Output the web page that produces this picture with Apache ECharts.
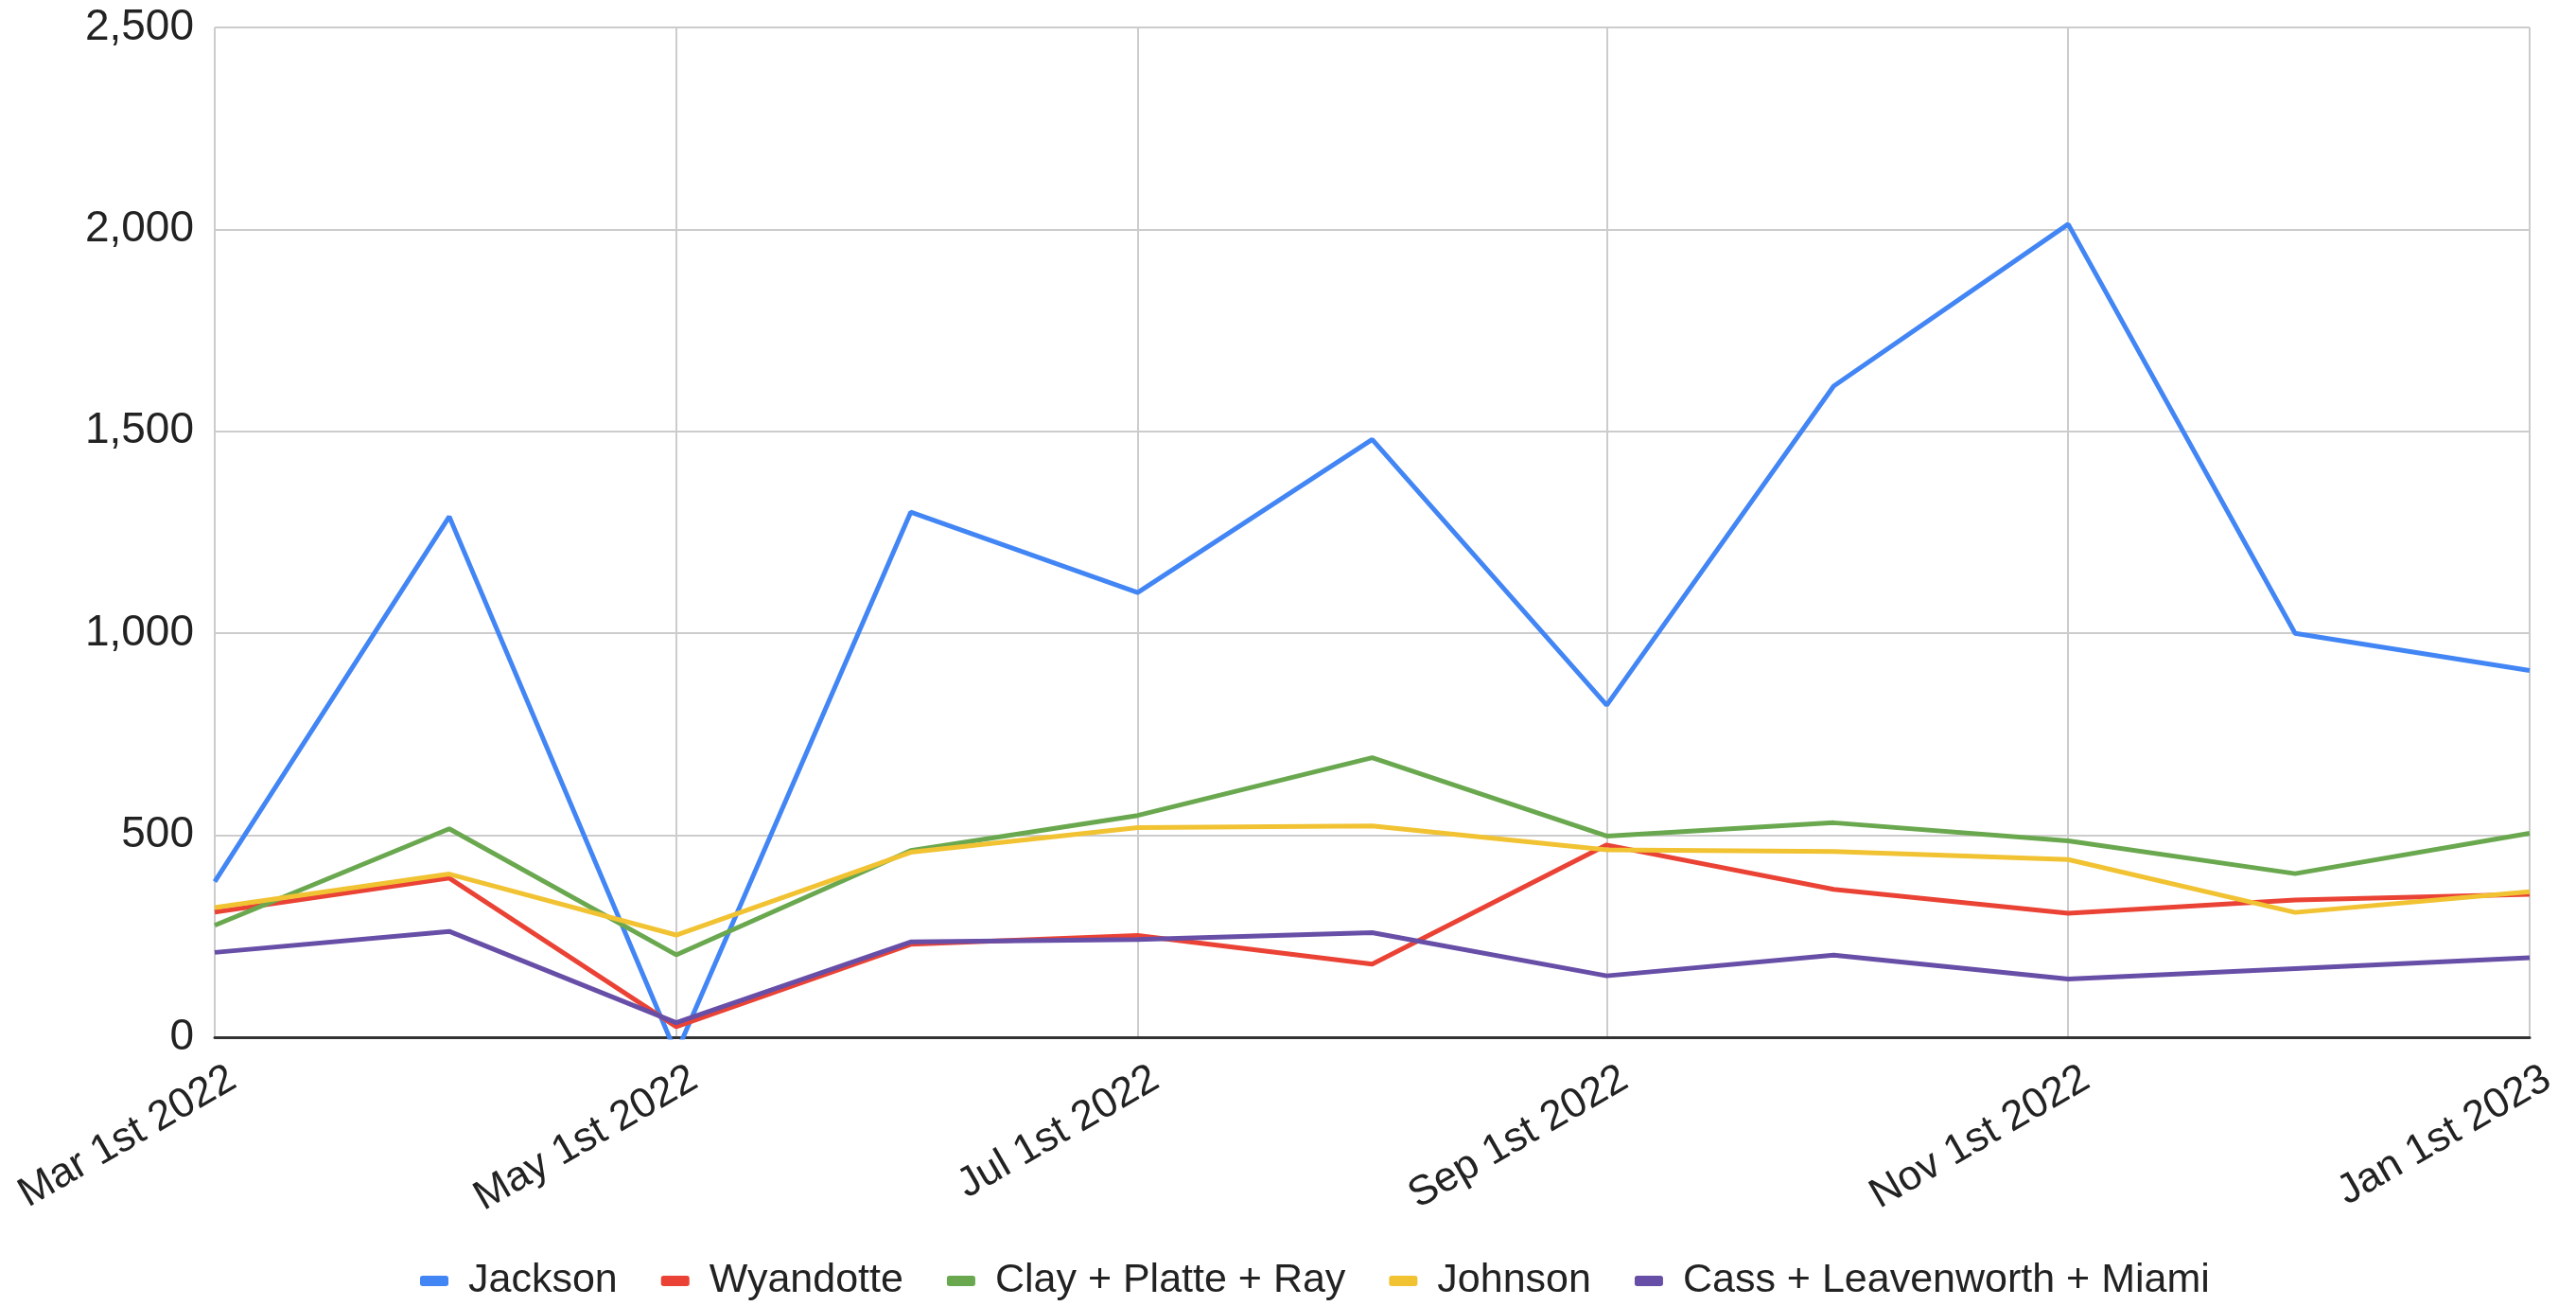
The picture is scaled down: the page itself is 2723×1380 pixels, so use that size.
<!DOCTYPE html>
<html>
<head>
<meta charset="utf-8">
<script src="https://cdn.jsdelivr.net/npm/echarts@6/dist/echarts.min.js"></script>
<style>
  html, body { margin: 0; padding: 0; background: #ffffff; }
  #chart { width: 2723px; height: 1380px; }
</style>
</head>
<body>
<div id="chart"></div>
<script>
// ---- data ----
const months = ['2022-03-01','2022-04-01','2022-05-01','2022-06-01','2022-07-01','2022-08-01',
                '2022-09-01','2022-10-01','2022-11-01','2022-12-01','2023-01-01'];
const seriesNames = ['Jackson', 'Wyandotte', 'Clay + Platte + Ray', 'Johnson', 'Cass + Leavenworth + Miami'];
const jackson   = [385, 1289, -40, 1300, 1101, 1480, 822, 1612, 2013, 1000, 908];
const wyandotte = [310, 394, 26, 230, 252, 181, 476, 366, 307, 340, 354];
const clay      = [277, 516, 204, 462, 549, 692, 498, 531, 486, 405, 505];
const johnson   = [321, 404, 253, 458, 519, 523, 464, 460, 440, 309, 360];
const cass      = [210, 262, 36, 236, 242, 259, 152, 203, 144, 170, 197];
const tickDates  = ['2022-03-01','2022-05-01','2022-07-01','2022-09-01','2022-11-01','2023-01-01'];
const tickLabels = ['Mar 1st 2022','May 1st 2022','Jul 1st 2022','Sep 1st 2022','Nov 1st 2022','Jan 1st 2023'];
const yTicks = [0, 500, 1000, 1500, 2000, 2500];
const colors = ['#4285F4', '#EA4335', '#6AA84F', '#F1C232', '#674EA7'];

// daily category axis so spacing follows the calendar
function dayList(first, last) {
  const out = [];
  let t = Date.parse(first + 'T00:00:00Z');
  const end = Date.parse(last + 'T00:00:00Z');
  while (t <= end) {
    out.push(new Date(t).toISOString().slice(0, 10));
    t += 86400000;
  }
  return out;
}
const days = dayList(months[0], months[months.length - 1]);
const isTick = (idx, val) => tickDates.indexOf(val) >= 0;

const allValues = [jackson, wyandotte, clay, johnson, cass];
const FONT = '"Liberation Sans", Arial, sans-serif';

const chart = echarts.init(document.getElementById('chart'), null, { renderer: 'canvas' });
chart.setOption({
  animation: false,
  backgroundColor: '#ffffff',
  color: colors,
  grid: { left: 227, right: 49, top: 29, bottom: 284, containLabel: false },
  legend: {
    bottom: 0,
    left: 439,
    icon: 'roundRect',
    itemWidth: 30,
    itemHeight: 11,
    itemGap: 46,
    textStyle: { fontFamily: FONT, fontSize: 43, color: '#222222', padding: [0, 0, 0, 16] },
    data: seriesNames
  },
  xAxis: {
    type: 'category',
    boundaryGap: false,
    data: days,
    axisLine: { show: true, onZero: true, lineStyle: { color: '#333333', width: 3 } },
    axisTick: { show: false },
    axisLabel: {
      interval: isTick,
      rotate: 30,
      margin: 52,
      padding: [0, -22, 0, 0],
      fontFamily: FONT,
      fontSize: 44,
      color: '#222222',
      formatter: v => { const i = tickDates.indexOf(v); return i >= 0 ? tickLabels[i] : ''; }
    },
    splitLine: { show: true, interval: isTick, lineStyle: { color: '#cccccc', width: 2 } }
  },
  yAxis: {
    type: 'value',
    min: yTicks[0],
    max: yTicks[yTicks.length - 1],
    interval: 500,
    axisLine: { show: false },
    axisTick: { show: false },
    axisLabel: {
      margin: 22,
      fontFamily: FONT,
      fontSize: 46,
      color: '#222222',
      formatter: v => v.toLocaleString('en-US')
    },
    splitLine: { show: true, lineStyle: { color: '#cccccc', width: 2 } }
  },
  series: seriesNames.map((name, s) => ({
    name: name,
    type: 'line',
    showSymbol: false,
    clip: true,
    lineStyle: { width: 5 },
    data: months.map((m, i) => [m, allValues[s][i]])
  }))
});
</script>
</body>
</html>
